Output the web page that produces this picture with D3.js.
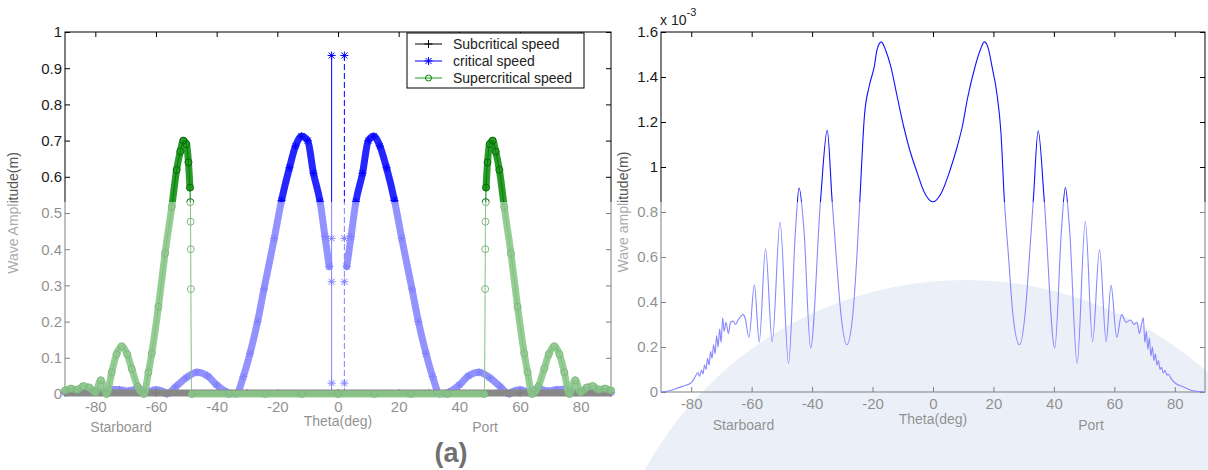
<!DOCTYPE html>
<html>
<head>
<meta charset="utf-8">
<script src="https://d3js.org/d3.v7.min.js"></script>
<style>
  body { margin: 0; background: #fff; }
  svg text { font-family: "Liberation Sans", Arial, sans-serif; }
</style>
</head>
<body>
<div id="chart"></div>
<script>
// ---- data ----
const xTicks = [-80, -60, -40, -20, 0, 20, 40, 60, 80];
const leftYTicks = [0, 0.1, 0.2, 0.3, 0.4, 0.5, 0.6, 0.7, 0.8, 0.9, 1];
const rightYTicks = [0, 0.2, 0.4, 0.6, 0.8, 1, 1.2, 1.4, 1.6];
const seriesNames = ["Subcritical speed", "critical speed", "Supercritical speed"];

// (a) subcritical speed: flat band on the axis
const subTheta = [-90, -60, -30, 0, 30, 60, 90];
const subAmp = [0.003, 0.003, 0.003, 0.003, 0.003, 0.003, 0.003];

// (a) critical speed, two branches either side of the spikes
const critTheta = [-90, -87, -84, -81, -78, -75, -72, -69, -66, -63, -60, -57, -56.5, -53.5, -50, -46.5, -43, -40, -36.5, -33.5,
  -31.2, -29, -26.5, -24.4, -21, -18.6, -16, -14, -12, -10, -8.1, -5.9, -4.3, -2.9,
  2.9, 4.3, 5.9, 8.1, 10, 11.8, 13.8, 16, 18.6, 21, 24.4, 26.5, 29, 31.2,
  33.5, 36.5, 40, 43, 46.5, 50, 53.5, 56.5, 57, 60, 63, 66, 69, 72, 75, 78, 81, 84, 87, 90];
const critAmp = [0.004, 0.008, 0.005, 0.01, 0.006, 0.013, 0.012, 0.008, 0.016, 0.006, 0.012, 0.004, 0.0, 0.02, 0.045, 0.06, 0.05, 0.025, 0.005, 0.0,
  0.048, 0.112, 0.2, 0.29, 0.43, 0.535, 0.625, 0.685, 0.712, 0.7, 0.61, 0.531, 0.435, 0.352,
  0.352, 0.435, 0.531, 0.61, 0.7, 0.712, 0.685, 0.625, 0.535, 0.43, 0.29, 0.2, 0.112, 0.048,
  0.0, 0.005, 0.025, 0.05, 0.06, 0.045, 0.02, 0.0, 0.004, 0.012, 0.006, 0.016, 0.008, 0.012, 0.013, 0.006, 0.01, 0.005, 0.008, 0.004];
// the two narrow spikes near theta = 0
const spikeTheta = [-2.1, 2.1];
const spikeTop = 0.935;
const spikeMarks = [0.935, 0.43, 0.31, 0.03];

// (a) supercritical speed
const superTheta = [-90, -88, -86, -84, -82, -80, -78.2, -76.3, -74.6, -73, -71.3, -69.5, -68, -66, -64, -62.5, -61.4, -59.2, -57, -54.8,
  -53.2, -52, -51, -50, -49.3, -48.8, -48.7, -48.6, -48.55, -48.5, -48.2, -36, -24, -12, 0, 12, 24, 36,
  48.2, 48.5, 48.55, 48.6, 48.7, 48.8, 49.3, 50, 51, 52, 53.2, 54.8, 57, 59.2, 61.4, 62.5, 64, 66, 68, 69.5,
  71.3, 73, 74.6, 76.3, 78.2, 80, 82, 84, 86, 88, 90];
const superAmp = [0.01, 0.015, 0.012, 0.022, 0.018, 0.005, 0.038, 0.0, 0.06, 0.11, 0.132, 0.11, 0.07, 0.02, 0.0, 0.06, 0.112, 0.241, 0.389, 0.517,
  0.619, 0.67, 0.70, 0.69, 0.64, 0.57, 0.53, 0.476, 0.40, 0.29, 0.0, 0, 0, 0, 0, 0, 0, 0,
  0.0, 0.29, 0.40, 0.476, 0.53, 0.57, 0.64, 0.69, 0.70, 0.67, 0.619, 0.517, 0.389, 0.241, 0.112, 0.06, 0.0, 0.02, 0.07, 0.11,
  0.132, 0.11, 0.06, 0.0, 0.038, 0.005, 0.018, 0.022, 0.012, 0.015, 0.01];

// (b) wave amplitude, units of 1e-3 m
const rightTheta = [-90, -88, -85.4, -82.9, -80.1, -79.2, -78.4, -77.8, -77.2, -76.6, -76.1, -75.6, -75.1, -74.6, -74.1, -73.6, -73.1,
  -72.6, -72.1, -71.6, -71.1, -70.6, -70.1, -69.6, -69.1, -68.5, -67.7, -67, -66.2, -65.3, -64.5, -63.6, -62.9, -62.2,
  -60.9, -59.1, -57.5, -55.4, -53.2, -50.6, -47.8, -45.5, -44.3, -42.7, -40.5, -37.2, -35, -33.4, -32, -30.5, -28.5,
  -26.5, -25.2, -24.2, -22.7, -21.1, -19.4, -18.5, -17.1, -15.7, -14, -11.8, -9.7, -8, -5.2, -3, 0,
  3, 5.5, 8, 9.7, 11.5, 13.8, 15.7, 17, 18.4, 19.5, 21.1, 22.5, 23.6, 25, 26.4, 28.6, 30.5, 31.9, 33.2, 34.8,
  36.8, 40.3, 42.5, 43.8, 45.2, 47.7, 50.4, 52.8, 55.1, 57.3, 58.9, 60.8, 62.4, 63.9, 65.4, 66.5, 67.5, 68.3, 69,
  69.6, 70.1, 70.6, 71.1, 71.6, 72.1, 72.6, 73.1, 73.6, 74.1, 74.6, 75.1, 75.6, 76.2, 76.8, 77.4, 77.8, 79, 80.1,
  82.9, 85.4, 88, 90];
const rightAmp = [0, 0.003, 0.013, 0.025, 0.04, 0.055, 0.075, 0.086, 0.07, 0.098, 0.08, 0.12, 0.1, 0.15, 0.12, 0.18, 0.15,
  0.21, 0.17, 0.25, 0.2, 0.28, 0.22, 0.33, 0.27, 0.31, 0.26, 0.31, 0.315, 0.3, 0.32, 0.335, 0.345, 0.33,
  0.242, 0.476, 0.223, 0.636, 0.223, 0.755, 0.127, 0.72, 0.907, 0.72, 0.196, 0.854, 1.163, 0.854, 0.6, 0.35, 0.21,
  0.35, 0.6, 0.854, 1.225, 1.36, 1.448, 1.522, 1.556, 1.52, 1.448, 1.31, 1.18, 1.09, 0.973, 0.891, 0.845,
  0.891, 0.98, 1.09, 1.18, 1.31, 1.44, 1.522, 1.556, 1.522, 1.448, 1.33, 1.15, 0.854, 0.6, 0.35, 0.21, 0.35, 0.6, 0.854, 1.161,
  0.854, 0.196, 0.72, 0.909, 0.72, 0.127, 0.757, 0.223, 0.633, 0.223, 0.475, 0.242, 0.344, 0.31, 0.32, 0.3, 0.31, 0.26, 0.3,
  0.33, 0.22, 0.27, 0.19, 0.24, 0.16, 0.2, 0.14, 0.17, 0.12, 0.14, 0.1, 0.11, 0.085, 0.095, 0.075, 0.08, 0.055, 0.04,
  0.022, 0.008, 0.002, 0];

// ---- layout ----
const svgWidth = 1208;
const svgHeight = 470;
const fadeTop = 202; // the scan is washed out below this line

const svg = d3.select("#chart")
  .append("svg")
  .attr("width", svgWidth)
  .attr("height", svgHeight);

// faint watermark behind the right plot
svg.append("circle")
  .attr("cx", 965)
  .attr("cy", 645)
  .attr("r", 365)
  .attr("fill", "#d6e0f0");

const leftX = d3.scaleLinear().domain([-90, 90]).range([65, 611]);
const leftY = d3.scaleLinear().domain([0, 1]).range([394, 32]);
const rightX = d3.scaleLinear().domain([-90, 90]).range([661, 1205]);
const rightY = d3.scaleLinear().domain([0, 1.6]).range([392, 32]);

// box with inward ticks on all four sides, MATLAB style
function drawFrame(g, x, y, yTicks, padX) {
  const [x0, x1] = x.range();
  const [y0, y1] = y.range();
  g.append("g")
    .attr("transform", `translate(0, ${y0})`)
    .call(d3.axisBottom(x).tickValues(xTicks).tickSize(-5).tickSizeOuter(0).tickPadding(padX).tickFormat(d => String(d)));
  g.append("g")
    .attr("transform", `translate(0, ${y1})`)
    .call(d3.axisTop(x).tickValues(xTicks).tickSize(-5).tickSizeOuter(0).tickFormat(""));
  g.append("g")
    .attr("transform", `translate(${x0}, 0)`)
    .call(d3.axisLeft(y).tickValues(yTicks).tickSize(-5).tickSizeOuter(0).tickPadding(3).tickFormat(d => String(d)));
  g.append("g")
    .attr("transform", `translate(${x1}, 0)`)
    .call(d3.axisRight(y).tickValues(yTicks).tickSize(-5).tickSizeOuter(0).tickFormat(""));
  g.selectAll(".domain").remove();
  g.selectAll(".tick line").attr("stroke", "#000");
  g.selectAll(".tick text")
    .attr("font-family", "Liberation Sans, Arial, sans-serif")
    .attr("font-size", 15)
    .attr("fill", "#1a1a1a");
  g.append("rect")
    .attr("x", x0)
    .attr("y", y1)
    .attr("width", x1 - x0)
    .attr("height", y0 - y1)
    .attr("fill", "none")
    .attr("stroke", "#000");
}

function addLabels(g, x, y, ylab, yLabX, starboardAt, portAt) {
  const [y0] = y.range();
  const mid = (y.range()[0] + y.range()[1]) / 2;
  g.append("text")
    .attr("x", x(0))
    .attr("y", y0 + 32)
    .attr("text-anchor", "middle")
    .attr("font-size", 14)
    .attr("fill", "#222")
    .text("Theta(deg)");
  g.append("text")
    .attr("x", x(starboardAt))
    .attr("y", y0 + 38)
    .attr("text-anchor", "middle")
    .attr("font-size", 14)
    .attr("fill", "#222")
    .text("Starboard");
  g.append("text")
    .attr("x", x(portAt))
    .attr("y", y0 + 38)
    .attr("text-anchor", "middle")
    .attr("font-size", 14)
    .attr("fill", "#222")
    .text("Port");
  g.append("text")
    .attr("transform", `translate(${yLabX}, ${mid}) rotate(-90)`)
    .attr("text-anchor", "middle")
    .attr("font-size", 14)
    .attr("fill", "#555")
    .text(ylab);
}

// marker shapes
const plusPath = "M-4,0H4M0,-4V4";
const starPath = "M-4,0H4M0,-4V4M-3,-3L3,3M-3,3L3,-3";

// ===== left chart (a) =====
const leftG = svg.append("g");
drawFrame(leftG, leftX, leftY, leftYTicks, 7);
addLabels(leftG, leftX, leftY, "Wave Amplitude(m)", 18, -71.5, 48.5);

const critData = critTheta.map((t, i) => ({ t: t, v: critAmp[i] }));
const subData = subTheta.map((t, i) => ({ t: t, v: subAmp[i] }));
const superData = superTheta.map((t, i) => ({ t: t, v: superAmp[i] }));

const leftLine = d3.line()
  .x(d => leftX(d.t))
  .y(d => leftY(d.v))
  .curve(d3.curveMonotoneX);

// critical speed: dense '*' markers show as a thick band
[critData.filter(d => d.t < 0), critData.filter(d => d.t > 0)].forEach(branch => {
  leftG.append("path")
    .attr("d", leftLine(branch))
    .attr("fill", "none")
    .attr("stroke", "#0000ff")
    .attr("stroke-opacity", 0.85)
    .attr("stroke-width", 7)
    .attr("stroke-linejoin", "round")
    .attr("stroke-linecap", "round");
});
leftG.selectAll(".critMark")
  .data(critData)
  .enter()
  .append("path")
  .attr("class", "critMark")
  .attr("transform", d => `translate(${leftX(d.t)}, ${leftY(d.v)})`)
  .attr("d", starPath)
  .attr("stroke", "#0000ff")
  .attr("fill", "none");

// the spikes
spikeTheta.forEach((t, i) => {
  leftG.append("line")
    .attr("x1", leftX(t))
    .attr("x2", leftX(t))
    .attr("y1", leftY(0))
    .attr("y2", leftY(spikeTop))
    .attr("stroke", "#0000ff")
    .attr("stroke-width", 1)
    .attr("stroke-dasharray", i === 0 ? null : "6,3");
  leftG.selectAll(".spikeMark" + i)
    .data(spikeMarks)
    .enter()
    .append("path")
    .attr("transform", v => `translate(${leftX(t)}, ${leftY(v)})`)
    .attr("d", starPath)
    .attr("stroke", "#0000ff")
    .attr("fill", "none");
});

// subcritical speed: sits on the axis
leftG.append("path")
  .attr("d", leftLine(subData))
  .attr("fill", "none")
  .attr("stroke", "#111")
  .attr("stroke-width", 7);
leftG.selectAll(".subMark")
  .data(subData)
  .enter()
  .append("path")
  .attr("transform", d => `translate(${leftX(d.t)}, ${leftY(d.v)})`)
  .attr("d", plusPath)
  .attr("stroke", "#000");

// supercritical speed
const superBand = d3.line()
  .defined(d => !(Math.abs(d.t) > 48.25 && Math.abs(d.t) < 48.75))
  .x(d => leftX(d.t))
  .y(d => leftY(d.v))
  .curve(d3.curveMonotoneX);
leftG.append("path")
  .attr("d", superBand(superData))
  .attr("fill", "none")
  .attr("stroke", "#139013")
  .attr("stroke-opacity", 0.9)
  .attr("stroke-width", 7)
  .attr("stroke-linejoin", "round")
  .attr("stroke-linecap", "round");
leftG.append("path")
  .attr("d", leftLine(superData))
  .attr("fill", "none")
  .attr("stroke", "#008000")
  .attr("stroke-width", 1);
leftG.selectAll(".superMark")
  .data(superData)
  .enter()
  .append("circle")
  .attr("cx", d => leftX(d.t))
  .attr("cy", d => leftY(d.v))
  .attr("r", 3.5)
  .attr("fill", "none")
  .attr("stroke", "#006e00");

// legend
const legend = leftG.append("g").attr("transform", "translate(407, 33)");
legend.append("rect")
  .attr("width", 177)
  .attr("height", 55)
  .attr("fill", "#fff")
  .attr("stroke", "#000");
const legendColors = ["#000", "#0000ff", "#19a019"];
seriesNames.forEach((name, i) => {
  const row = legend.append("g").attr("transform", `translate(0, ${11 + i * 17})`);
  row.append("line")
    .attr("x1", 8).attr("x2", 35)
    .attr("stroke", legendColors[i]);
  if (i === 2) {
    row.append("circle").attr("cx", 21.5).attr("r", 3).attr("fill", "none").attr("stroke", "#008000");
  } else {
    row.append("path")
      .attr("transform", "translate(21.5, 0)")
      .attr("d", i === 0 ? plusPath : starPath)
      .attr("stroke", legendColors[i]);
  }
  row.append("text")
    .attr("x", 46)
    .attr("y", 5)
    .attr("font-size", 14)
    .attr("fill", "#222")
    .text(name);
});

// ===== right chart (b) =====
const rightG = svg.append("g");
drawFrame(rightG, rightX, rightY, rightYTicks, 6.5);
addLabels(rightG, rightX, rightY, "Wave amplitude(m)", 628, -62.7, 52.3);

const rightData = rightTheta.map((t, i) => ({ t: t, v: rightAmp[i] }));
rightG.append("path")
  .attr("d", d3.line()
    .x(d => rightX(d.t))
    .y(d => rightY(d.v))
    .curve(d3.curveMonotoneX)(rightData))
  .attr("fill", "none")
  .attr("stroke", "#1010ff")
  .attr("stroke-width", 1.1);

// exponent label
const expo = rightG.append("text")
  .attr("x", 660)
  .attr("y", 25)
  .attr("font-size", 14)
  .attr("fill", "#222");
expo.append("tspan").text("x 10");
expo.append("tspan").attr("dy", -9).attr("font-size", 11).text("-3");

// washed-out lower part of the scan
svg.append("rect")
  .attr("x", 0)
  .attr("y", fadeTop)
  .attr("width", svgWidth)
  .attr("height", svgHeight - fadeTop)
  .attr("fill", "#fff")
  .attr("opacity", 0.5);

// panel tag
svg.append("text")
  .attr("x", 451)
  .attr("y", 462)
  .attr("text-anchor", "middle")
  .attr("font-family", "Liberation Serif, Times New Roman, serif")
  .attr("font-weight", "bold")
  .attr("font-size", 27)
  .attr("fill", "#707070")
  .text("(a)");
</script>
</body>
</html>
